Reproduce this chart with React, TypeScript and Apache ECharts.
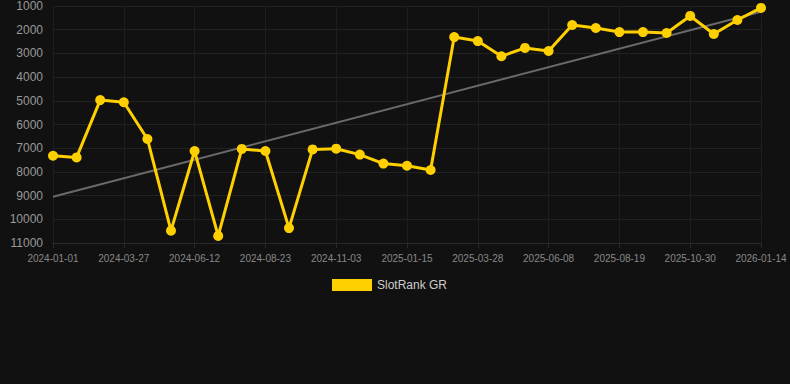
import React, { useEffect, useRef } from "react";
import * as echarts from "echarts";

const categories: string[] = [
  "2024-01-01", "2024-01-29", "2024-02-27", "2024-03-27", "2024-04-22", "2024-05-18",
  "2024-06-12", "2024-07-06", "2024-07-30", "2024-08-23", "2024-09-16", "2024-10-10",
  "2024-11-03", "2024-11-27", "2024-12-21", "2025-01-15", "2025-02-08", "2025-03-04",
  "2025-03-28", "2025-04-21", "2025-05-15", "2025-06-08", "2025-07-02", "2025-07-26",
  "2025-08-19", "2025-09-12", "2025-10-06", "2025-10-30", "2025-11-24", "2025-12-19",
  "2026-01-14",
];

const rankValues: number[] = [
  7320, 7390, 4970, 5060, 6610, 10480, 7120, 10700, 7030, 7120, 10370, 7050,
  7020, 7270, 7650, 7740, 7920, 2310, 2480, 3120, 2770, 2900, 1800, 1930,
  2100, 2100, 2140, 1420, 2180, 1590, 1080,
];

const trendStart = 9050;
const trendEnd = 1240;

const yMin = 1000;
const yMax = 11000;
const yInterval = 1000;

export default function App() {
  const ref = useRef<HTMLDivElement>(null);
  useEffect(() => {
    if (!ref.current) return;
    const chart = echarts.init(ref.current, null, { renderer: "svg" });
    const trendData = categories.map((_, i) =>
      i === 0 ? trendStart : i === categories.length - 1 ? trendEnd : null
    );
    chart.setOption({
      animation: false,
      backgroundColor: "#111111",
      grid: { left: 53, right: 29, top: 6, bottom: 141, containLabel: false },
      legend: {
        data: [{ name: "SlotRank GR", icon: "rect" }],
        top: 279,
        left: 332,
        padding: 0,
        itemWidth: 40,
        itemHeight: 12,
        textStyle: { color: "#cccccc", fontSize: 12, fontFamily: "Arial, Liberation Sans, sans-serif" },
      },
      xAxis: {
        type: "category",
        data: categories,
        boundaryGap: false,
        axisLine: { show: true, lineStyle: { color: "#2a2a2a" } },
        axisTick: { show: true, interval: 2, lineStyle: { color: "#2a2a2a" } },
        axisLabel: {
          interval: 2,
          color: "#888888",
          fontSize: 10,
          margin: 10,
          fontFamily: "Arial, Liberation Sans, sans-serif",
        },
        splitLine: { show: true, interval: 2, lineStyle: { color: "#1e1e1e" } },
      },
      yAxis: {
        type: "value",
        inverse: true,
        min: yMin,
        max: yMax,
        interval: yInterval,
        axisLine: { show: false },
        axisTick: { show: false },
        axisLabel: {
          color: "#999999",
          fontSize: 12,
          margin: 10,
          formatter: (v: number) => String(v),
          fontFamily: "Arial, Liberation Sans, sans-serif",
        },
        splitLine: { show: true, lineStyle: { color: "#222222" } },
      },
      series: [
        {
          name: "Trend",
          type: "line",
          data: trendData,
          connectNulls: true,
          symbol: "none",
          lineStyle: { color: "#6a6a6a", width: 2 },
          itemStyle: { color: "#6a6a6a" },
          z: 1,
        },
        {
          name: "SlotRank GR",
          type: "line",
          data: rankValues,
          symbol: "circle",
          symbolSize: 10,
          lineStyle: { color: "#FFD000", width: 3 },
          itemStyle: { color: "#FFD000" },
          z: 2,
        },
      ],
    });
    return () => chart.dispose();
  }, []);
  return (
    <div
      ref={ref}
      style={{ position: "fixed", left: 0, top: 0, width: 790, height: 384 }}
    />
  );
}
